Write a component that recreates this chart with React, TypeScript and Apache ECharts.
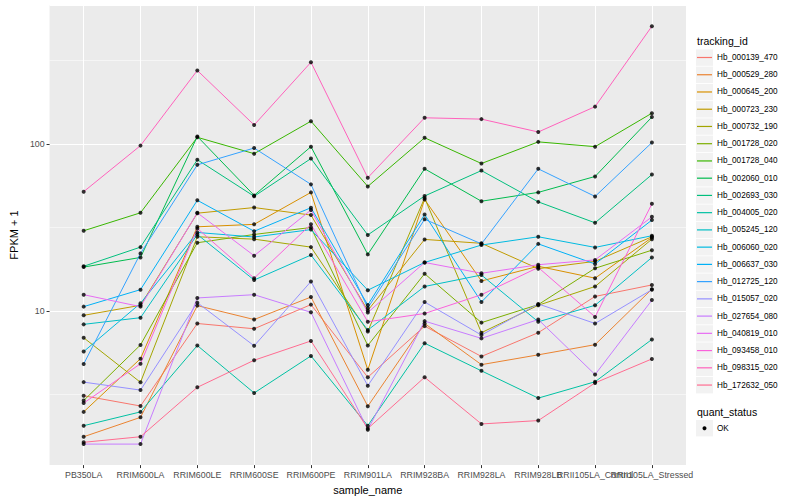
import React, { useEffect, useRef } from 'react';
import * as echarts from 'echarts';

const categories = [
  'PB350LA', 'RRIM600LA', 'RRIM600LE', 'RRIM600SE', 'RRIM600PE', 'RRIM901LA',
  'RRIM928BA', 'RRIM928LA', 'RRIM928LB', 'RRII105LA_Control', 'RRII105LA_Stressed',
];

const trackingIds = [
  'Hb_000139_470', 'Hb_000529_280', 'Hb_000645_200', 'Hb_000723_230', 'Hb_000732_190',
  'Hb_001728_020', 'Hb_001728_040', 'Hb_002060_010', 'Hb_002693_030', 'Hb_004005_020',
  'Hb_005245_120', 'Hb_006060_020', 'Hb_006637_030', 'Hb_012725_120', 'Hb_015057_020',
  'Hb_027654_080', 'Hb_040819_010', 'Hb_093458_010', 'Hb_098315_020', 'Hb_172632_050',
];

const hueColors = [
  '#F8766D', '#EA8331', '#D89000', '#C09B00', '#A3A500',
  '#7CAE00', '#39B600', '#00BB4E', '#00BF7D', '#00C1A3',
  '#00BFC4', '#00BAE0', '#00B0F6', '#35A2FF', '#9590FF',
  '#C77CFF', '#E76BF3', '#FA62DB', '#FF62BC', '#FF6C91',
];

// FPKM + 1 values, one array per tracking_id, in category order
const hb000139_470 = [3.1, 2.69, 8.4, 7.81, 10.9, 4.0, 8.1, 5.33, 7.4, 12.2, 14.3];
const hb000529_280 = [1.76, 2.3, 10.75, 8.87, 12.1, 2.68, 8.4, 4.76, 5.45, 6.27, 13.5];
const hb000645_200 = [2.48, 5.17, 31.9, 33, 51.3, 4.43, 46.5, 15.1, 18.5, 15.7, 27.5];
const hb000723_230 = [9.4, 10.8, 38.5, 41.6, 37.5, 10.05, 26.8, 25.4, 17.9, 19.8, 27.8];
const hb000732_190 = [6.9, 3.73, 27.8, 26.9, 24.1, 7.53, 47.5, 7.4, 10.8, 14.0, 26.9];
const hb001728_020 = [2.9, 6.25, 25.6, 28.7, 31.6, 6.2, 16.7, 8.5, 10.9, 18.0, 23.1];
const hb001728_040 = [30.2, 38.7, 109.7, 87.5, 137, 55.7, 109, 76.4, 103, 96.4, 153];
const hb002060_010 = [18.3, 20.9, 111, 49.2, 96.4, 21.8, 71, 45.4, 51.3, 63.9, 145];
const hb002693_030 = [18.5, 24.1, 80.5, 48.6, 81.8, 28.5, 48.8, 69.3, 45, 33.7, 65.6];
const hb004005_020 = [2.05, 2.48, 6.2, 3.22, 5.37, 2.05, 6.4, 4.37, 3.0, 3.76, 6.74];
const hb005245_120 = [8.3, 9.1, 28.7, 15.3, 21.6, 7.67, 14.0, 16.4, 8.6, 10.8, 20.9];
const hb006060_020 = [5.7, 11.1, 29.5, 27.7, 30.7, 13.3, 19.5, 24.8, 27.8, 24.0, 28.2];
const hb006637_030 = [10.6, 13.4, 46, 30, 41.5, 10.85, 37.8, 11.3, 25.2, 19.1, 35];
const hb012725_120 = [4.8, 22.1, 75, 94.6, 57.3, 10.4, 35.4, 25.2, 71, 48.5, 102];
const hb015057_020 = [3.74, 3.35, 11.2, 6.17, 15.0, 3.56, 11.3, 7.16, 11.0, 8.4, 13.4];
const hb027654_080 = [1.59, 1.59, 11.95, 12.5, 9.8, 1.94, 8.68, 6.84, 8.87, 4.15, 11.6];
const hb040819_010 = [12.5, 10.6, 38.7, 21.4, 40.2, 9.77, 19.5, 16.8, 18.9, 20.2, 36.6];
const hb093458_010 = [2.8, 4.82, 31.2, 15.7, 33, 8.6, 9.64, 12.5, 18.2, 9.2, 43.8];
const hb098315_020 = [51.8, 97.8, 276, 130, 309, 62.8, 143.6, 141, 118, 167.5, 508];
const hb172632_050 = [1.63, 1.76, 3.48, 5.06, 6.6, 1.97, 4.0, 2.1, 2.2, 3.7, 5.15];

const seriesValues = [
  hb000139_470, hb000529_280, hb000645_200, hb000723_230, hb000732_190,
  hb001728_020, hb001728_040, hb002060_010, hb002693_030, hb004005_020,
  hb005245_120, hb006060_020, hb006637_030, hb012725_120, hb015057_020,
  hb027654_080, hb040819_010, hb093458_010, hb098315_020, hb172632_050,
];

const yTickValues = [10, 100];
const yMinorValues = [3.1623, 31.623, 316.23];
const xTickValues = categories.map((_, i) => i + 1);

const FONT = '"Liberation Sans", Arial, Helvetica, sans-serif';

export default function App() {
  const ref = useRef<HTMLDivElement | null>(null);

  useEffect(() => {
    if (!ref.current) return;
    const chart = echarts.init(ref.current, null, { renderer: 'svg' });

    const yMin = 1.19;
    const yMax = 681;
    const lMin = Math.log10(yMin);
    const lMax = Math.log10(yMax);

    const catFormatter = (v: number) => {
      const i = Math.round(v);
      return Math.abs(v - i) < 1e-6 && i >= 1 && i <= categories.length ? categories[i - 1] : '';
    };

    const labelStyle = {
      color: '#4D4D4D',
      fontSize: 8.8,
      margin: 5,
      hideOverlap: false,
      formatter: catFormatter,
    };

    // x labels are split over three overlaid axes so that the overlapping
    // last labels (as in the reference) are both kept
    const labelGroups = [xTickValues.slice(0, 9), [xTickValues[9]], [xTickValues[10]]];

    const xAxes: any[] = labelGroups.map((vals, k) => ({
      type: 'value',
      gridIndex: 0,
      position: 'bottom',
      offset: 0,
      min: 0.4,
      max: 11.6,
      minInterval: 1,
      maxInterval: 1,
      splitNumber: 11,
      axisLine: { show: false },
      axisTick: k === 0
        ? { show: true, length: 3, lineStyle: { color: '#333333', width: 1 }, customValues: xTickValues }
        : { show: false, customValues: vals },
      axisLabel: { ...labelStyle, customValues: vals },
      splitLine: k === 0
        ? { show: true, lineStyle: { color: '#FFFFFF', width: 1.07 } }
        : { show: false },
      ...(k === 0
        ? {
            name: 'sample_name',
            nameLocation: 'middle',
            nameGap: 13,
            nameTextStyle: { color: '#000', fontSize: 11, fontFamily: FONT, verticalAlign: 'top' },
          }
        : {}),
    }));

    const lineSeries = trackingIds.map((name, i) => ({
      type: 'line',
      name,
      xAxisIndex: 0,
      yAxisIndex: 0,
      data: seriesValues[i].map((v, j) => [j + 1, v]),
      showSymbol: false,
      symbol: 'none',
      lineStyle: { color: hueColors[i], width: 1 },
      itemStyle: { color: hueColors[i] },
      silent: true,
      z: 2,
    }));

    const pointData: number[][] = [];
    seriesValues.forEach((vals) => vals.forEach((v, j) => pointData.push([j + 1, v])));

    const legendTop = 49;
    const legendStep = 17.24;

    const graphics: any[] = [];
    trackingIds.forEach((_, i) => {
      graphics.push({
        type: 'rect',
        z: 0,
        shape: { x: 696, y: legendTop + legendStep * i + 0.4, width: 17, height: 16.4 },
        style: { fill: '#F2F2F2' },
      });
    });
    graphics.push({
      type: 'text', x: 697, y: 40.5,
      style: { text: 'tracking_id', fill: '#000', font: `10.5px ${FONT}`, textVerticalAlign: 'middle' },
    });
    graphics.push({
      type: 'text', x: 697, y: 412,
      style: { text: 'quant_status', fill: '#000', font: `10.5px ${FONT}`, textVerticalAlign: 'middle' },
    });
    graphics.push({
      type: 'rect', shape: { x: 696, y: 420, width: 17, height: 16.4 }, style: { fill: '#F2F2F2' },
    });
    graphics.push({
      type: 'circle', shape: { cx: 704.5, cy: 428.3, r: 2 }, style: { fill: '#000' },
    });
    graphics.push({
      type: 'text', x: 717, y: 428.3,
      style: { text: 'OK', fill: '#000', font: `8.2px ${FONT}`, textVerticalAlign: 'middle' },
    });

    const option: any = {
      animation: false,
      backgroundColor: '#FFFFFF',
      textStyle: { fontFamily: FONT },
      grid: {
        left: 40, top: 5, width: 646, height: 463,
        show: true, backgroundColor: '#EBEBEB', borderWidth: 0,
      },
      xAxis: xAxes,
      yAxis: [
        {
          // data axis: log10 scale of FPKM + 1, labels and major grid
          type: 'log',
          logBase: 10,
          min: yMin,
          max: yMax,
          axisLine: { show: false },
          axisTick: { show: false },
          axisLabel: {
            color: '#4D4D4D',
            fontSize: 8.8,
            margin: 5,
            formatter: (v: number) => {
              const l = Math.log10(v);
              if (Math.abs(l - Math.round(l)) > 1e-6) return '';
              const r = Math.round(v);
              return yTickValues.includes(r) ? String(r) : '';
            },
          },
          splitLine: { show: true, lineStyle: { color: '#FFFFFF', width: 1.07 } },
          name: 'FPKM + 1',
          nameLocation: 'middle',
          nameGap: 26,
          nameRotate: 90,
          nameTextStyle: { color: '#000', fontSize: 11, fontFamily: FONT },
        },
        {
          // tick marks at the major breaks only (same extent, log10 units)
          type: 'value',
          position: 'left',
          min: lMin,
          max: lMax,
          axisLine: { show: false },
          axisTick: {
            show: true, length: 3, lineStyle: { color: '#333333', width: 1 },
            customValues: yTickValues.map((v) => Math.log10(v)),
          },
          axisLabel: { show: false },
          splitLine: { show: false },
        },
        {
          // minor grid lines halfway between decades
          type: 'value',
          position: 'left',
          min: lMin,
          max: lMax,
          axisLine: { show: false },
          axisTick: { show: false, customValues: yMinorValues.map((v) => Math.log10(v)) },
          axisLabel: { show: false },
          splitLine: { show: true, lineStyle: { color: '#FFFFFF', width: 0.53 } },
        },
      ],
      legend: {
        data: trackingIds,
        orient: 'vertical',
        left: 697,
        top: legendTop,
        padding: 0,
        itemGap: 0.24,
        itemWidth: 15,
        itemHeight: 1.2,
        icon: 'rect',
        selectedMode: false,
        z: 10,
        textStyle: { color: '#000', fontSize: 8.2, lineHeight: 17, fontFamily: FONT },
      },
      graphic: graphics,
      series: [
        ...lineSeries,
        {
          type: 'scatter',
          name: 'OK',
          xAxisIndex: 0,
          yAxisIndex: 0,
          data: pointData,
          symbol: 'circle',
          symbolSize: 4,
          itemStyle: { color: '#000000' },
          silent: true,
          z: 3,
        },
      ],
    };

    chart.setOption(option);
    return () => chart.dispose();
  }, []);

  return (
    <div
      ref={ref}
      style={{ position: 'fixed', left: 0, top: 0, width: 800, height: 500, background: '#fff' }}
    />
  );
}
